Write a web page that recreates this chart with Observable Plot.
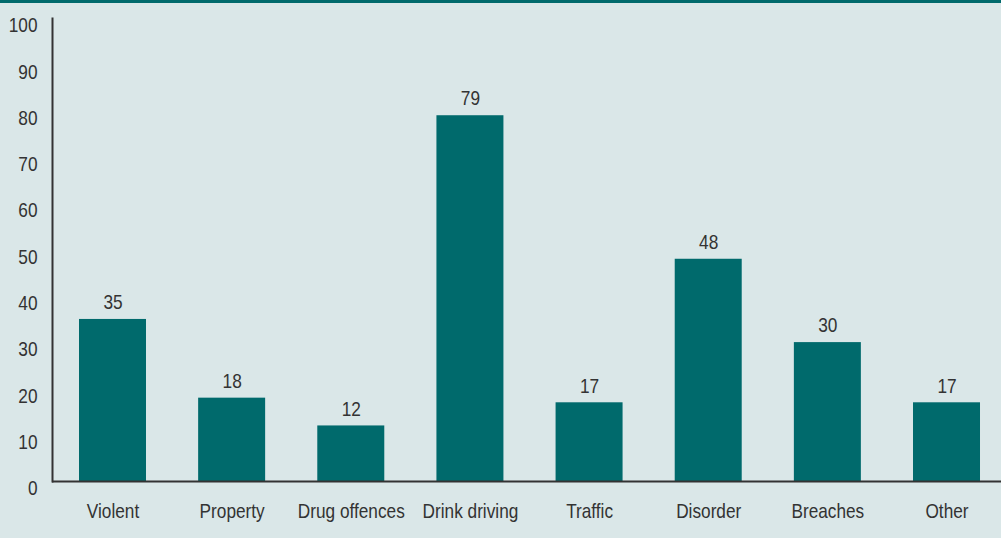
<!DOCTYPE html>
<html><head><meta charset="utf-8">
<script src="https://cdn.jsdelivr.net/npm/d3@7"></script>
<script src="https://cdn.jsdelivr.net/npm/@observablehq/plot@0.6"></script>
<style>
html,body{margin:0;padding:0;background:#dae7e8;}
#topbar{height:3px;background:#006a6c;width:1001px;}
svg{display:block;}
</style></head>
<body>
<div id="topbar"></div>
<div id="chart"></div>
<script>
const categories = ["Violent","Property","Drug offences","Drink driving","Traffic","Disorder","Breaches","Other"];
const values = [35,18,12,79,17,48,30,17];
const yTicks = [0,10,20,30,40,50,60,70,80,90,100];

const data = categories.map((c,i)=>({category:c, value:values[i]}));
const font = "'Liberation Sans Narrow','Arial Narrow','Liberation Sans',Arial,sans-serif";

const chart = Plot.plot({
  width: 1001,
  height: 535,
  marginTop: 15,
  marginBottom: 57,
  marginLeft: 52,
  marginRight: 0,
  style: {background: "#dae7e8", fontFamily: font, fontSize: "21px", color: "#333"},
  x: {domain: categories, range: [52, 1007], paddingInner: 0.4377, paddingOuter: 0.2266, round: false, label: null},
  y: {domain: [0, 100], label: null},
  marks: [
    Plot.barY(data, {x: "category", y: "value", fill: "#006a6c"}),
    Plot.text(data, {x: "category", y: "value", text: d => String(d.value), dy: -17, fill: "#333", fontSize: 21}),
    Plot.axisY({ticks: yTicks, tickSize: 0, tickPadding: 15, dy: 7, fill: "#333", fontSize: 21, label: null}),
    Plot.axisX({tickSize: 0, tickPadding: 22, fill: "#333", fontSize: 21, label: null}),
    Plot.frame({anchor: "left", stroke: "#333", strokeWidth: 2}),
    Plot.ruleY([0], {stroke: "#333", strokeWidth: 2})
  ]
});
document.getElementById("chart").appendChild(chart);
// condense text to mimic a narrow typeface
chart.querySelectorAll("text").forEach(t => {
  const len = t.getComputedTextLength();
  if (len > 0) {
    t.setAttribute("textLength", (len * 0.82).toFixed(1));
    t.setAttribute("lengthAdjust", "spacingAndGlyphs");
  }
});
</script>
</body></html>
